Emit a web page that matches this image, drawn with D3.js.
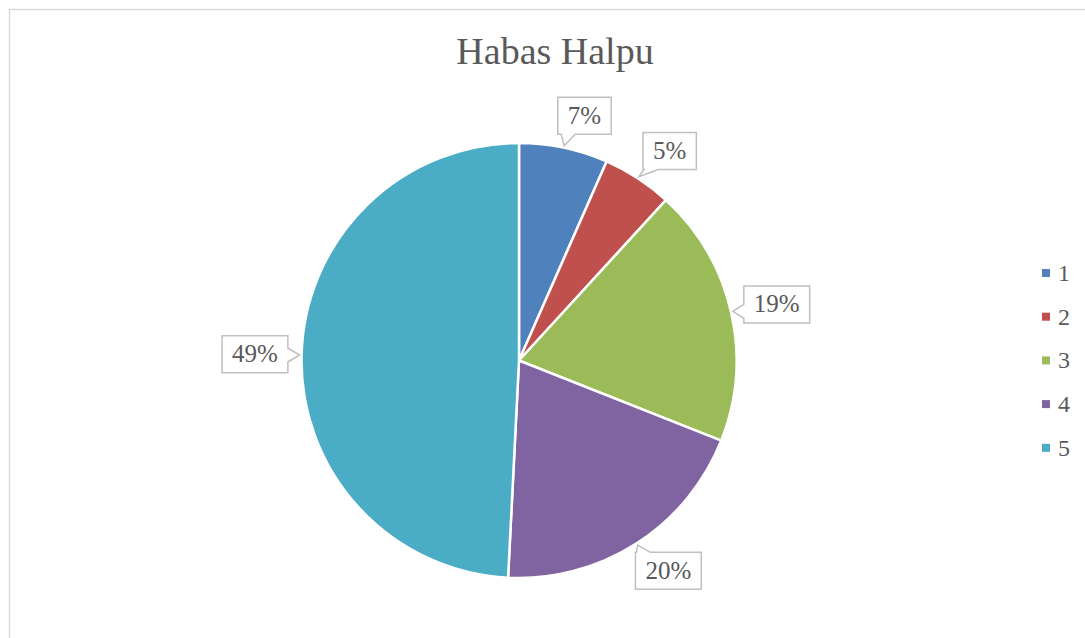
<!DOCTYPE html>
<html>
<head>
<meta charset="utf-8">
<script src="https://cdn.jsdelivr.net/npm/d3@7"></script>
<style>
  body { margin: 0; background: #fff; }
  svg { display: block; }
</style>
</head>
<body>
<svg></svg>
<script>
const width = 1085;
const height = 638;

// data
const categories = ["1", "2", "3", "4", "5"];
const shares = [6.6, 5.2, 19.2, 19.8, 49.2];
const colors = ["#4F81BD", "#C0504D", "#9BBB59", "#8064A2", "#4BACC6"];
const title = "Habas Halpu";

const font = "'Liberation Serif', 'Times New Roman', serif";
const textColor = "#595959";
const cx = 519, cy = 360.5, radius = 217.5;

let svg = d3.select("svg")
  .attr("width", width)
  .attr("height", height);

// chart frame
svg.append("rect")
  .attr("x", 9.5).attr("y", 9.5)
  .attr("width", 1100).attr("height", 700)
  .attr("fill", "#fff")
  .attr("stroke", "#d9d9d9")
  .attr("stroke-width", 1.5);

svg.append("text")
  .attr("x", 555)
  .attr("y", 64)
  .attr("text-anchor", "middle")
  .attr("font-family", font)
  .attr("font-size", 38)
  .attr("fill", textColor)
  .text(title);

const data = categories.map((c, i) => ({cat: c, value: shares[i], color: colors[i]}));
const total = d3.sum(shares);

let pie = d3.pie().sort(null).value(d => d.value);
let arc = d3.arc().innerRadius(0).outerRadius(radius);
let labelArc = d3.arc().innerRadius(radius * 1.15).outerRadius(radius * 1.15);
let tipArc = d3.arc().innerRadius(radius + 2).outerRadius(radius + 2);

let g = svg.append("g").attr("transform", `translate(${cx},${cy})`);

let arcs = pie(data);

g.selectAll("path.slice")
  .data(arcs)
  .enter()
  .append("path")
  .attr("class", "slice")
  .attr("d", arc)
  .attr("fill", d => d.data.color)
  .attr("stroke", "#fff")
  .attr("stroke-width", 2.5)
  .attr("stroke-linejoin", "round");

// callout box with a little wedge pointing at the slice
function calloutPath(x0, y0, x1, y1, tx, ty) {
  const hw = 7;
  const clamp = (v, lo, hi) => Math.max(lo, Math.min(hi, v));
  const dl = x0 - tx, dr = tx - x1, dt = y0 - ty, db = ty - y1;
  const m = Math.max(dl, dr, dt, db);
  if (m === db) {
    const c = clamp(tx + 4, x0 + hw + 1, x1 - hw - 1);
    return `M${x0},${y0}H${x1}V${y1}H${c + hw}L${tx},${ty}L${c - hw},${y1}H${x0}Z`;
  } else if (m === dt) {
    const c = clamp(tx + 4, x0 + hw + 1, x1 - hw - 1);
    return `M${x0},${y0}H${c - hw}L${tx},${ty}L${c + hw},${y0}H${x1}V${y1}H${x0}Z`;
  } else if (m === dl) {
    const c = clamp(ty, y0 + hw + 1, y1 - hw - 1);
    return `M${x0},${y0}H${x1}V${y1}H${x0}V${c + hw}L${tx},${ty}L${x0},${c - hw}Z`;
  } else {
    const c = clamp(ty, y0 + hw + 1, y1 - hw - 1);
    return `M${x0},${y0}H${x1}V${c - hw}L${tx},${ty}L${x1},${c + hw}V${y1}H${x0}Z`;
  }
}

let labels = g.selectAll("g.callout")
  .data(arcs)
  .enter()
  .append("g")
  .attr("class", "callout");

labels.each(function(d) {
  let sel = d3.select(this);
  let [lx, ly] = labelArc.centroid(d);
  // push the box sideways, away from the vertical axis
  lx += Math.sign(lx) * 14;
  const [tx, ty] = tipArc.centroid(d);
  let path = sel.append("path");
  let txt = sel.append("text")
    .attr("x", lx)
    .attr("y", ly + 8)
    .attr("text-anchor", "middle")
    .attr("font-family", font)
    .attr("font-size", 25)
    .attr("fill", textColor)
    .text(Math.round(d.data.value / total * 100) + "%");
  const w = txt.node().getComputedTextLength() + 20;
  const h = 37;
  path.attr("d", calloutPath(lx - w / 2, ly - h / 2, lx + w / 2, ly + h / 2, tx, ty))
    .attr("fill", "#fff")
    .attr("stroke", "#bfbfbf")
    .attr("stroke-width", 1.5);
});

// legend
let legend = svg.append("g").attr("transform", "translate(1042,273)");
let items = legend.selectAll("g")
  .data(data)
  .enter()
  .append("g")
  .attr("transform", (d, i) => `translate(0,${i * 43.7})`);

items.append("rect")
  .attr("x", 0).attr("y", -4)
  .attr("width", 8).attr("height", 8)
  .attr("fill", d => d.color);

items.append("text")
  .attr("x", 16)
  .attr("y", 8)
  .attr("font-family", font)
  .attr("font-size", 24)
  .attr("fill", textColor)
  .text(d => d.cat);
</script>
</body>
</html>
